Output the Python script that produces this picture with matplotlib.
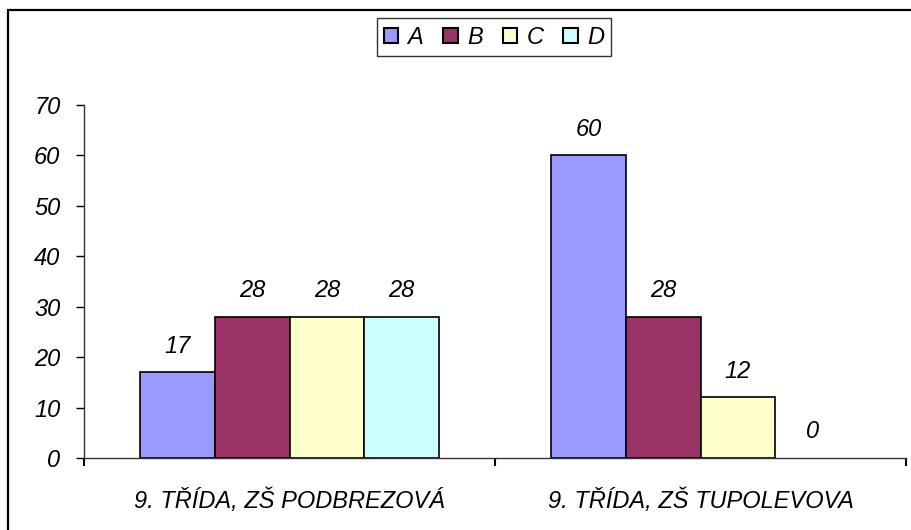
import matplotlib
matplotlib.use('Agg')
import matplotlib.pyplot as plt
from matplotlib.patches import Rectangle
import numpy as np

plt.rcParams['font.family'] = ['Liberation Sans', 'DejaVu Sans']

# data
categories = ['9. TŘÍDA, ZŠ PODBREZOVÁ', '9. TŘÍDA, ZŠ TUPOLEVOVA']
series = ['A', 'B', 'C', 'D']
values_A = [17, 60]
values_B = [28, 28]
values_C = [28, 12]
values_D = [28, 0]
colors = ['#9999FF', '#993366', '#FFFFCC', '#CCFFFF']

FS = 17

fig = plt.figure(figsize=(9.11, 5.30), dpi=100)
ax = fig.add_axes([84/911, 1 - 458/530, (906 - 84)/911, (458 - 105)/530])

x = np.arange(len(categories))
w = 0.1816
all_vals = [values_A, values_B, values_C, values_D]
for i, (name, vals, c) in enumerate(zip(series, all_vals, colors)):
    pos = x + (i - 1.5) * w
    bars = ax.bar(pos, vals, w, color=c, edgecolor='black', linewidth=1.2,
                  label=name, zorder=2)
    for b, v in zip(bars, vals):
        if v == 0:
            b.set_linewidth(0)  # excel doesn't draw an outline for empty bars
    for xi, v in zip(pos, vals):
        ax.annotate(str(v), (xi, v), xytext=(0, 10.5), textcoords='offset points',
                    ha='center', va='bottom', fontsize=FS, style='italic')

ax.set_xlim(-0.5, 1.5)
ax.set_ylim(0, 70)
ax.set_yticks(range(0, 71, 10))
ax.set_yticklabels([str(v) for v in range(0, 71, 10)], fontsize=FS, style='italic')
ax.tick_params(axis='y', length=6, width=1, pad=11, direction='out')

ax.set_xticks(x)
ax.set_xticklabels(categories, fontsize=FS, style='italic')
ax.set_xticks([-0.5, 0.5, 1.5], minor=True)
ax.tick_params(axis='x', which='major', length=0, pad=22)
ax.tick_params(axis='x', which='minor', length=6, width=1.5, direction='out')

for s in ['top', 'right']:
    ax.spines[s].set_visible(False)
for s in ['left', 'bottom']:
    ax.spines[s].set_color('#333333')
    ax.spines[s].set_linewidth(1)
    ax.spines[s].set_zorder(3)

leg = ax.legend(loc='center', bbox_to_anchor=(494/911, 1 - 37/530),
                bbox_transform=fig.transFigure, ncol=4,
                prop={'style': 'italic', 'size': FS}, frameon=True, fancybox=False,
                handlelength=0.6, handleheight=0.6, handletextpad=0.4,
                columnspacing=0.85, borderpad=0.3)
leg.get_frame().set_edgecolor('black')
leg.get_frame().set_linewidth(1)
for h in leg.legend_handles:
    h.set_linewidth(1.5)

# outer border of the chart area
fig.add_artist(Rectangle((8/911, -0.1), 1.2, 1.1 - 10/530, transform=fig.transFigure,
                         fill=False, edgecolor='black', linewidth=1.6))

fig.savefig('out.png', dpi=100, facecolor='white')
